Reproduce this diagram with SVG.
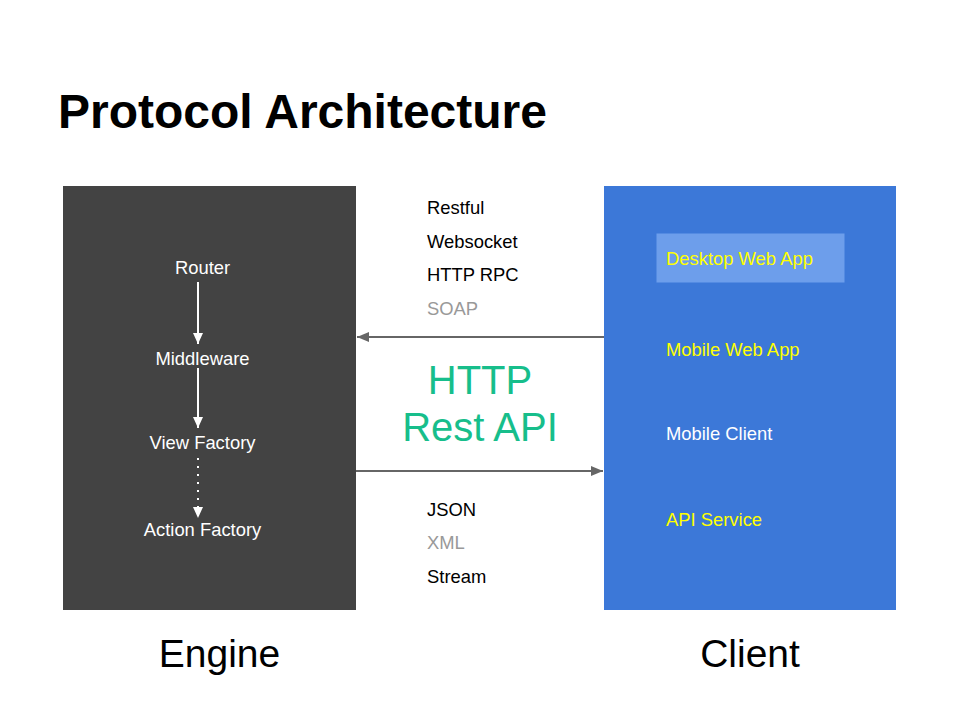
<svg xmlns="http://www.w3.org/2000/svg" width="960" height="720" viewBox="0 0 960 720">
<style>
text { font-family: "Liberation Sans", Arial, sans-serif; }
.t18 { font-size: 18.4px; }
.eng { fill: #ffffff; text-anchor: middle; }
.blk { fill: #000000; }
.gry { fill: #999999; }
.yel { fill: #ffff00; }
.wht { fill: #ffffff; }
.big { font-size: 39px; fill: #000000; text-anchor: middle; }
.api { font-size: 40px; fill: #17be8b; text-anchor: middle; }
.conn { stroke: #666666; stroke-width: 2; fill: none; }
.flow { stroke: #ffffff; stroke-width: 2; fill: none; }
</style>
<defs>
<marker id="ah" viewBox="0 0 12 10" refX="12" refY="5" markerWidth="12" markerHeight="10" markerUnits="userSpaceOnUse" orient="auto">
<path d="M0,0 L12,5 L0,10 Z" fill="#666666"/>
</marker>
<marker id="wh" viewBox="0 0 11 10" refX="11" refY="5" markerWidth="11" markerHeight="10" markerUnits="userSpaceOnUse" orient="auto">
<path d="M0,0 L11,5 L0,10 Z" fill="#ffffff"/>
</marker>
</defs>
<rect width="960" height="720" fill="#ffffff"/>
<text x="58" y="128" style="font-size:48px;font-weight:bold" fill="#000000">Protocol Architecture</text>

<g id="engine">
<rect x="63" y="186" width="293" height="424" fill="#434343"/>
<text class="t18 eng" x="202.5" y="274">Router</text>
<text class="t18 eng" x="202.5" y="365">Middleware</text>
<text class="t18 eng" x="202.5" y="449">View Factory</text>
<text class="t18 eng" x="202.5" y="536">Action Factory</text>
<line class="flow" x1="198" y1="282" x2="198" y2="344" marker-end="url(#wh)"/>
<line class="flow" x1="198" y1="368" x2="198" y2="428" marker-end="url(#wh)"/>
<line class="flow" x1="198" y1="458" x2="198" y2="518" stroke-dasharray="2,6" marker-end="url(#wh)"/>
</g>

<g id="client">
<rect x="604" y="186" width="292" height="424" fill="#3c78d8"/>
<rect x="656.5" y="233.5" width="188" height="49" fill="#6d9eeb"/>
<text class="t18 yel" x="666" y="264.5">Desktop Web App</text>
<text class="t18 yel" x="666" y="356">Mobile Web App</text>
<text class="t18 wht" x="666" y="439.5">Mobile Client</text>
<text class="t18 yel" x="666" y="526">API Service</text>
</g>

<g id="protocols">
<text class="t18 blk" x="427" y="213.5">Restful</text>
<text class="t18 blk" x="427" y="247.5">Websocket</text>
<text class="t18 blk" x="427" y="281">HTTP RPC</text>
<text class="t18 gry" x="427" y="314.5">SOAP</text>
</g>

<g id="api-label">
<text class="api" x="480" y="394">HTTP</text>
<text class="api" x="480" y="441">Rest API</text>
</g>

<g id="formats">
<text class="t18 blk" x="427" y="515.5">JSON</text>
<text class="t18 gry" x="427" y="549">XML</text>
<text class="t18 blk" x="427" y="582.5">Stream</text>
</g>

<g id="connectors">
<line class="conn" x1="604" y1="337" x2="357" y2="337" marker-end="url(#ah)"/>
<line class="conn" x1="356" y1="471" x2="603" y2="471" marker-end="url(#ah)"/>
</g>

<g id="labels">
<text class="big" x="219.5" y="667">Engine</text>
<text class="big" x="750" y="667">Client</text>
</g>
</svg>
